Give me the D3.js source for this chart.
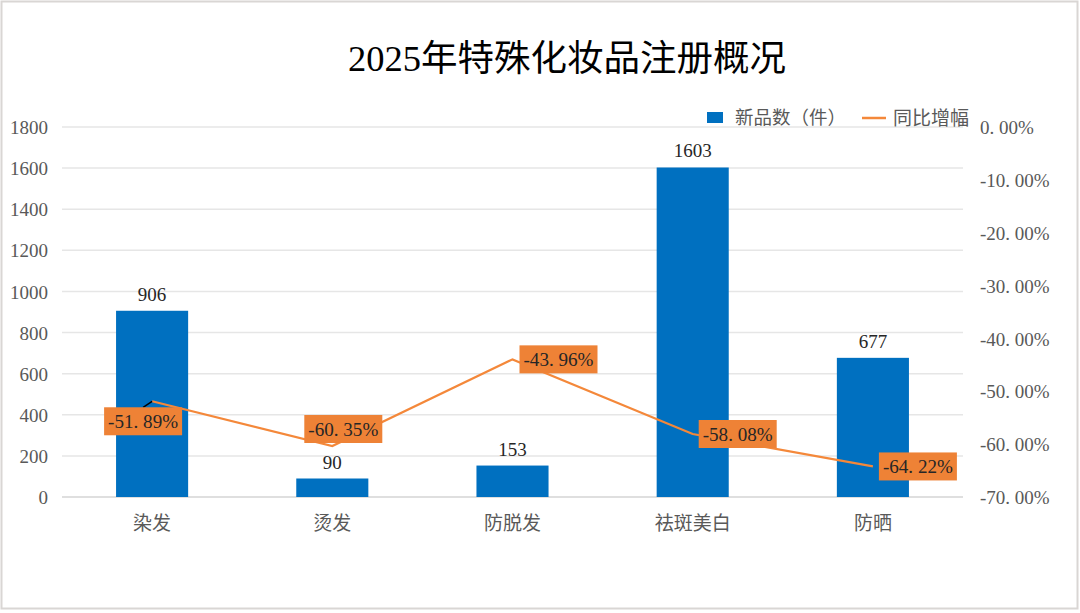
<!DOCTYPE html>
<html><head><meta charset="utf-8">
<script src="https://cdn.jsdelivr.net/npm/d3@7/dist/d3.min.js"></script>
<style>
html,body{margin:0;padding:0;background:#fff;}
svg{display:block;}
</style></head>
<body>
<svg id="chart" width="1080" height="613"></svg>
<script>
const categories = ["染发", "烫发", "防脱发", "祛斑美白", "防晒"];
const newProducts = [906, 90, 153, 1603, 677];
const yoyGrowth = [-51.89, -60.35, -43.96, -58.08, -64.22];
const leftTicks = [0, 200, 400, 600, 800, 1000, 1200, 1400, 1600, 1800];
const rightTicks = [0, -10, -20, -30, -40, -50, -60, -70];
const seriesNames = ["新品数（件）", "同比增幅"];
// label box offsets relative to point (layout)
const labelShift = [[-9, 20], [11, -17], [46, 0], [45, 0], [45, 0]];

const svg = d3.select("#chart");
const serif = "'Liberation Serif','DejaVu Serif','Noto Sans CJK SC',serif";
const cjk = "'Noto Sans CJK SC','Noto Sans',sans-serif";

svg.append("rect").attr("x",1.5).attr("y",1.5).attr("width",1076).attr("height",607)
  .attr("fill","#fff").attr("stroke","#d9d6d4").attr("stroke-width",2);

const pLeft = 62, pRight = 963, pTop = 127, pBottom = 497;
const x = d3.scaleBand().domain(categories).range([pLeft, pRight]).paddingInner(0).paddingOuter(0);
const y = d3.scaleLinear().domain([0, 1800]).range([pBottom, pTop]);
const y2 = d3.scaleLinear().domain([-70, 0]).range([pBottom, pTop]);

const pct = d => d3.format(".2f")(d).replace("−","-").replace(".", ". ") + "%";

// title
svg.append("text").attr("x", 567).attr("y", 71).attr("text-anchor","middle")
  .attr("font-family", serif).attr("font-size", 36.5).attr("fill","#000")
  .text("2025年特殊化妆品注册概况");

// gridlines
svg.append("g").selectAll("line").data(leftTicks).join("line")
  .attr("x1", pLeft).attr("x2", pRight).attr("y1", d=>y(d)).attr("y2", d=>y(d))
  .attr("stroke", d => d===0 ? "#d4d4d4" : "#e6e6e6").attr("stroke-width", 1.5);

// left axis
const gl = svg.append("g").attr("transform", `translate(${pLeft-14},0)`)
  .call(d3.axisLeft(y).tickValues(leftTicks).tickSize(0).tickPadding(0).tickFormat(d3.format("d")));
gl.select(".domain").remove();
gl.selectAll("text").attr("font-family", serif).attr("font-size", 19).attr("fill","#595959").attr("dy","0.35em");

// right axis
const gr = svg.append("g").attr("transform", `translate(${pRight+17},0)`)
  .call(d3.axisRight(y2).tickValues(rightTicks).tickSize(0).tickPadding(0).tickFormat(pct));
gr.select(".domain").remove();
gr.selectAll("text").attr("font-family", serif).attr("font-size", 19).attr("fill","#595959").attr("dy","0.35em");

// x axis labels
const gx = svg.append("g").attr("transform", `translate(0,${pBottom+26})`)
  .call(d3.axisBottom(x).tickSize(0).tickPadding(0));
gx.select(".domain").remove();
gx.selectAll("text").attr("font-family", cjk).attr("font-size", 19).attr("fill","#595959").attr("dy","0.35em").attr("y", 0);

// bars
const bw = x.bandwidth() * 0.4;
const cx = i => x(categories[i]) + x.bandwidth()/2;
svg.append("g").selectAll("rect").data(newProducts).join("rect")
  .attr("x", (d,i) => cx(i) - bw/2)
  .attr("width", bw)
  .attr("y", d => y(d)).attr("height", d => y(0) - y(d))
  .attr("fill", "#0070C0");

svg.append("g").selectAll("text").data(newProducts).join("text")
  .attr("x", (d,i) => cx(i))
  .attr("y", d => y(d) - 10)
  .attr("text-anchor","middle").attr("font-family", serif).attr("font-size", 19).attr("fill","#262626")
  .text(d => d);

// line
const line = d3.line().x((d,i)=>cx(i)).y(d=>y2(d));
svg.append("path").datum(yoyGrowth).attr("d", line)
  .attr("fill","none").attr("stroke","#F4883A").attr("stroke-width", 2.2);

// leader line for first label
svg.append("line").attr("x1", cx(0)).attr("y1", y2(yoyGrowth[0]))
  .attr("x2", cx(0)-9).attr("y2", y2(yoyGrowth[0])+6).attr("stroke","#000").attr("stroke-width",1.5);

// line labels
const lg = svg.append("g").selectAll("g").data(yoyGrowth).join("g")
  .attr("transform", (d,i) => `translate(${cx(i)+labelShift[i][0]},${y2(d)+labelShift[i][1]})`);
lg.append("rect").attr("x",-39).attr("y",-14).attr("width",78).attr("height",28).attr("fill","#EE8236");
lg.append("text").attr("text-anchor","middle").attr("dy","0.35em")
  .attr("font-family", serif).attr("font-size", 19).attr("fill","#262626")
  .attr("textLength", 70).attr("lengthAdjust","spacingAndGlyphs")
  .text(pct);

// legend
const leg = svg.append("g");
leg.append("rect").attr("x",707).attr("y",112).attr("width",16).attr("height",11).attr("fill","#0070C0");
leg.append("text").attr("x",735).attr("y",118).attr("dy","0.35em").attr("font-family", cjk).attr("font-size",18.5).attr("fill","#595959").text(seriesNames[0]);
leg.append("line").attr("x1",862).attr("x2",886).attr("y1",118).attr("y2",118).attr("stroke","#F4883A").attr("stroke-width",2.5);
leg.append("text").attr("x",893).attr("y",118).attr("dy","0.35em").attr("font-family", cjk).attr("font-size",19).attr("fill","#595959").text(seriesNames[1]);
</script>
</body></html>
